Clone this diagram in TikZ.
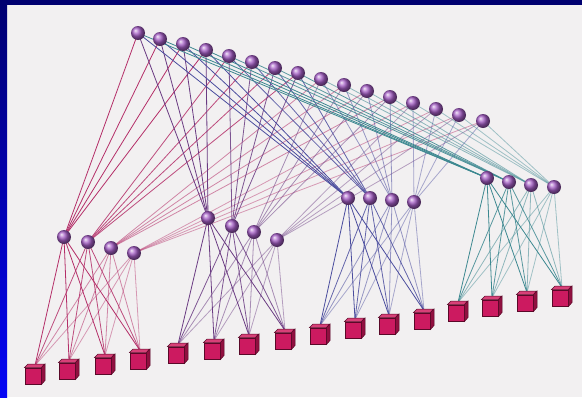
\documentclass[tikz,border=0pt]{standalone}
\usetikzlibrary{shadings}
\pgfdeclarelayer{bg}
\pgfdeclarelayer{edges}
\pgfsetlayers{bg,edges,main}
\definecolor{paper}{HTML}{F2F0F1}
\definecolor{navyband}{HTML}{000070}
\definecolor{blueband}{HTML}{0505F5}
\definecolor{spherecol}{HTML}{A35CC4}
\definecolor{cubefront}{HTML}{CC1A60}
\definecolor{cubetopc}{HTML}{D84078}
\definecolor{cubeside}{HTML}{901040}
\definecolor{cubeedge}{HTML}{5A0828}
\definecolor{grpA}{HTML}{B42E68}
\definecolor{grpB}{HTML}{6A3A82}
\definecolor{grpC}{HTML}{4A4C9E}
\definecolor{grpD}{HTML}{3C8890}
\tikzset{
  sph/.style={circle, inner sep=0pt, minimum size=14pt, ball color=spherecol},
  cubebox/.style={rectangle, inner sep=0pt, minimum width=16.5pt, minimum height=16.5pt,
    fill=cubefront, draw=cubeedge, line width=0.5pt},
  link/.style={line width=0.8pt},
}
\begin{document}
\begin{tikzpicture}[x=1pt, y=-1pt]
\useasboundingbox (0,0) rectangle (582,397);
\begin{pgfonlayer}{bg}
  \fill[paper] (0,0) rectangle (582,397);
  \fill[navyband] (0,0) rectangle (582,5);
  \shade[top color=navyband, bottom color=blueband] (0,0) rectangle (7,397);
\end{pgfonlayer}

% upper switches
\foreach \p [count=\i] in {(138,33),(160,39),(183,44),(206,50),(229,56),(252,62),
    (275,68),(298,73),(321,79),(344,85),(367,91),(390,97),(413,103),(436,109),
    (459,115),(483,121)}
  \node[sph] (t\i) at \p {};

% middle switches, four groups of four
\foreach \p [count=\i] in {(64,237),(88,242),(111,248),(134,253),
    (208,218),(232,226),(254,232),(277,240),
    (348,198),(370,198),(392,200),(414,202),
    (487,178),(509,182),(531,185),(554,187)}
  \node[sph] (m\i) at \p {};

% hosts drawn as small cubes
\foreach \p [count=\i] in {(33,376),(67,371),(103,366),(138,361),(176,355),(212,351),
    (247,346),(283,341),(318,336),(353,330),(387,326),(422,321),(456,313),
    (490,308),(525,303),(560,298)}
{
  \node[cubebox] (b\i) at \p {};
  \filldraw[fill=cubetopc, draw=cubeedge, line width=0.5pt]
    (b\i.north west) -- ++(3.5,-3.5) -- ++(16.5,0) -- (b\i.north east) -- cycle;
  \filldraw[fill=cubeside, draw=cubeedge, line width=0.5pt]
    (b\i.north east) -- ++(3.5,-3.5) -- ++(0,16.5) -- (b\i.south east) -- cycle;
  \coordinate (c\i) at ([shift={(2,-2)}]b\i.north);
}

% links: each middle switch reaches four upper switches and the four hosts of its group
\begin{pgfonlayer}{edges}
\foreach \g/\col in {1/grpA,2/grpB,3/grpC,4/grpD}
  \foreach \k/\op in {1/1,2/0.85,3/0.55,4/0.45}
  {
    \pgfmathtruncatemacro\mid{4*(\g-1)+\k}
    \foreach \j in {1,...,4}
    {
      \pgfmathtruncatemacro\up{4*(\k-1)+\j}
      \pgfmathtruncatemacro\dn{4*(\g-1)+\j}
      \draw[link, draw=\col, draw opacity=\op] (t\up.center) -- (m\mid.center);
      \draw[link, draw=\col, draw opacity=\op] (m\mid.center) -- (c\dn);
    }
  }
\end{pgfonlayer}
\end{tikzpicture}
\end{document}
